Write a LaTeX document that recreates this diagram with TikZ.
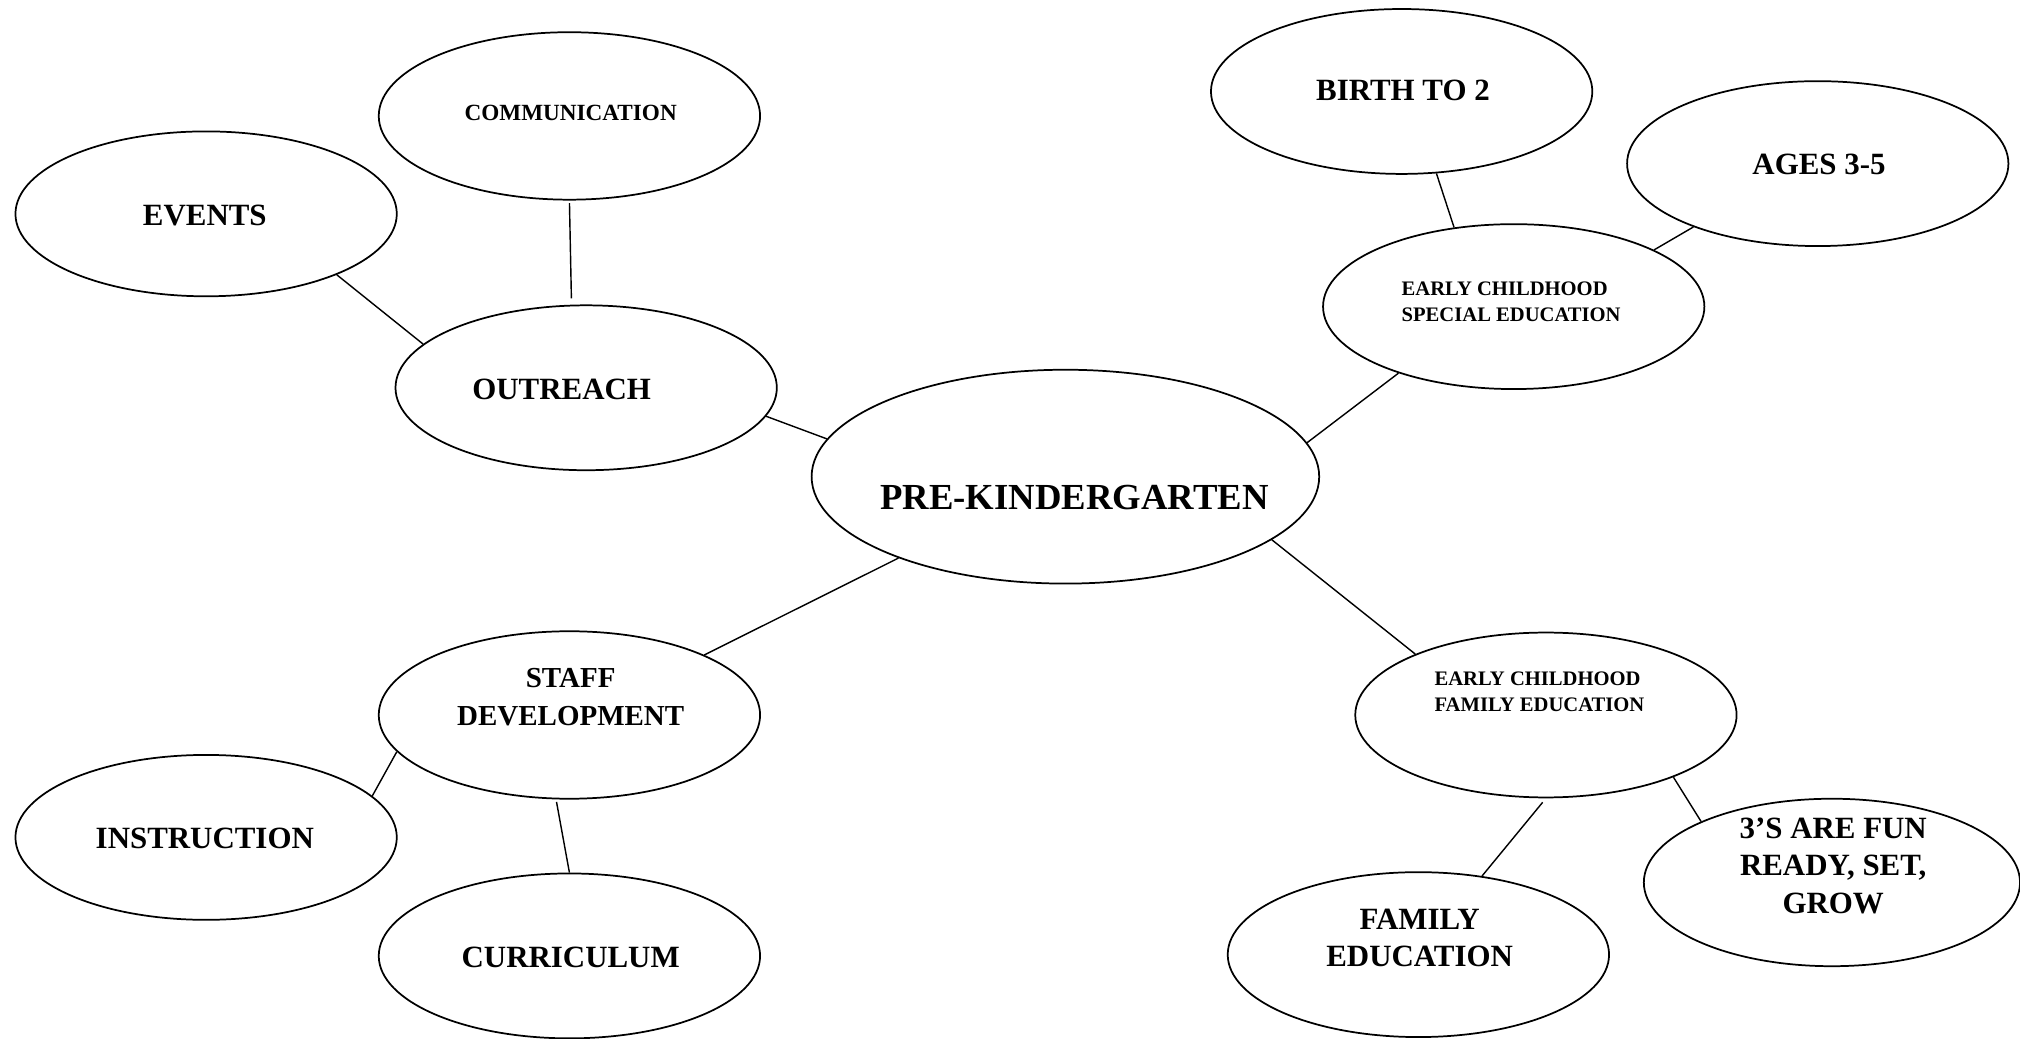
\documentclass[tikz,border=0pt]{standalone}
\usepackage{fontspec}
\setmainfont{Liberation Serif}
\usepackage{tikz}
\usetikzlibrary{shapes.geometric}
\tikzset{%
    bubble/.style={%
        draw, ellipse, line width=1.35pt, inner sep=0pt,
        minimum width=296pt, minimum height=128pt
    },
    bigtext/.style={font=\bfseries\fontsize{24}{29}\selectfont, align=center},
    smalltext/.style={font=\bfseries\fontsize{16}{20}\selectfont, align=left},
    link/.style={line width=1.1pt}
}

\begin{document}
\begin{tikzpicture}[x=1pt,y=-1pt]
    \useasboundingbox (0,0) rectangle (1568,806);
%-----------------------------------------------
    \node[bubble, minimum width=394pt, minimum height=166pt] (prek) at (827,370) {};
    \node[bubble] (outreach) at (455,301) {};
    \node[bubble, minimum height=130pt] (communication) at (442,90) {};
    \node[bubble] (events) at (160,166) {};
    \node[bubble, minimum height=130pt] (staff) at (442,555) {};
    \node[bubble] (instruction) at (160,650) {};
    \node[bubble] (curriculum) at (442,742) {};
    \node[bubble] (ecse) at (1175,238) {};
    \node[bubble] (birth) at (1088,71) {};
    \node[bubble] (ages) at (1411,127) {};
    \node[bubble] (ecfe) at (1200,555) {};
    \node[bubble] (family) at (1101,741) {};
    \node[bubble, minimum width=292pt, minimum height=130pt] (threes) at (1422,685) {};
%-----------------------------------------------
    \node[bigtext, font=\bfseries\fontsize{28.5}{34}\selectfont] (prek-t) at (834,386) {PRE-KINDERGARTEN};
    \node[bigtext] (outreach-t) at (436,302) {OUTREACH};
    \node[bigtext, font=\bfseries\fontsize{18}{22}\selectfont] (communication-t) at (443,88) {COMMUNICATION};
    \node[bigtext] (events-t) at (159,167) {EVENTS};
    \node[bigtext, font=\bfseries\fontsize{22.5}{29}\selectfont] (staff-t) at (443,541) {STAFF\\DEVELOPMENT};
    \node[bigtext] (instruction-t) at (159,651) {INSTRUCTION};
    \node[bigtext] (curriculum-t) at (443,743) {CURRICULUM};
    \node[smalltext] (ecse-t) at (1173,234) {EARLY CHILDHOOD\\SPECIAL EDUCATION};
    \node[bigtext] (birth-t) at (1089,70) {BIRTH TO 2};
    \node[bigtext] (ages-t) at (1412,128) {AGES 3-5};
    \node[smalltext] (ecfe-t) at (1195,537) {EARLY CHILDHOOD\\FAMILY EDUCATION};
    \node[bigtext] (family-t) at (1102,728) {FAMILY\\EDUCATION};
    \node[bigtext] (threes-t) at (1423,672) {3’S ARE FUN\\READY, SET,\\GROW};
%-----------------------------------------------
    \draw[link] (events.-25) -- (outreach.165);
    \draw[link, shorten <=2pt, shorten >=5pt] (communication.-90) -- (outreach.100.6);
    \draw[link] (outreach.-9) -- (prek.171);
    \draw[link] (prek.206) -- (staff.24);
    \draw[link] (staff.192) -- (instruction.14);
    \draw[link, shorten <=2pt] (staff.261) -- (curriculum.90);
    \draw[link] (prek.8) -- (ecse.210);
    \draw[link] (ecse.127) -- (birth.293);
    \draw[link] (ecse.22) -- (ages.207);
    \draw[link] (prek.-17) -- (ecfe.155);
    \draw[link, shorten <=4pt] (ecfe.270) -- (family.51);
    \draw[link] (ecfe.-26) -- (threes.155);
\end{tikzpicture}
\end{document}
